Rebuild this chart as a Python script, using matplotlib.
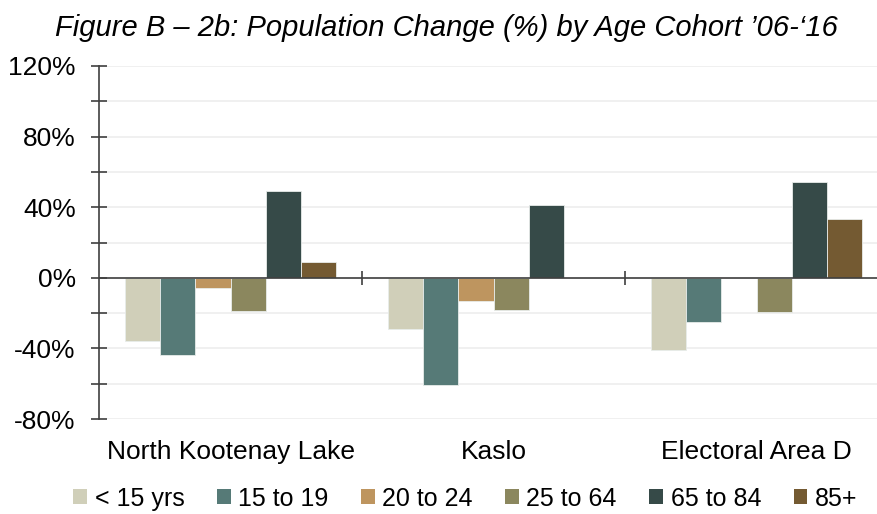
import numpy as np
import matplotlib.pyplot as plt
from matplotlib.patches import Patch

plt.rcParams["font.family"] = ["Liberation Sans", "DejaVu Sans"]

# 数据
areas = ["North Kootenay Lake", "Kaslo", "Electoral Area D"]
cohorts = ["< 15 yrs", "15 to 19", "20 to 24", "25 to 64", "65 to 84", "85+"]
colors = ["#D0CFB9", "#567A77", "#BE955F", "#8B875E", "#364A48", "#745A32"]
under_15 = [-36, -29, -41]
age_15_19 = [-44, -61, -25]
age_20_24 = [-6, -13, 0]
age_25_64 = [-19, -18.5, -19.5]
age_65_84 = [49, 41.5, 54]
age_85_plus = [9, 0, 33.5]
series = [under_15, age_15_19, age_20_24, age_25_64, age_65_84, age_85_plus]

fig = plt.figure(figsize=(8.78, 5.14), dpi=100)
ax = fig.add_axes([0.1128, 0.1848, 0.8986, 0.6868])

x = np.arange(len(areas))
bar_width = 0.1333
for i, (vals, c) in enumerate(zip(series, colors)):
    ax.bar(x + (i - 2.5) * bar_width, vals, bar_width, color=c, edgecolor="#E8ECEA", linewidth=0.6, zorder=3)

# 轴与网格
ax.set_ylim(-80, 120)
ax.set_xlim(-0.5, 2.5)
ax.set_yticks(np.arange(-80, 121, 40))
ax.set_yticks(np.arange(-60, 121, 40), minor=True)
ax.set_yticklabels([f"{v}%" for v in range(-80, 121, 40)], fontsize=19)
ax.tick_params(axis="y", which="both", direction="inout", length=11.5, width=1.2, color="#404040", pad=11)
for v in range(-80, 121, 20):
    ax.axhline(v, color="#EEEEEE", linewidth=1.2, zorder=1)
ax.axhline(0, color="#404040", linewidth=1.2, zorder=4)
ax.vlines([0.5, 1.5], -4, 4, color="#404040", linewidth=1.2, zorder=4)

ax.set_xticks(x)
ax.set_xticklabels(areas, fontsize=19)
ax.tick_params(axis="x", length=0, pad=15)
for s in ["top", "right", "bottom"]:
    ax.spines[s].set_visible(False)
ax.spines["left"].set_color("#404040")
ax.spines["left"].set_linewidth(1.2)

fig.text(0.508, 0.945, "Figure B – 2b: Population Change (%) by Age Cohort ’06-‘16",
         ha="center", va="center", fontsize=21, style="italic")

handles = [Patch(facecolor=c, label=l) for c, l in zip(colors, cohorts)]
fig.legend(handles=handles, loc="center", bbox_to_anchor=(0.53, 0.03), ncol=6, frameon=False,
           fontsize=18, handlelength=0.55, handleheight=0.55, handletextpad=0.3, columnspacing=1.3)

fig.savefig("out.png")
